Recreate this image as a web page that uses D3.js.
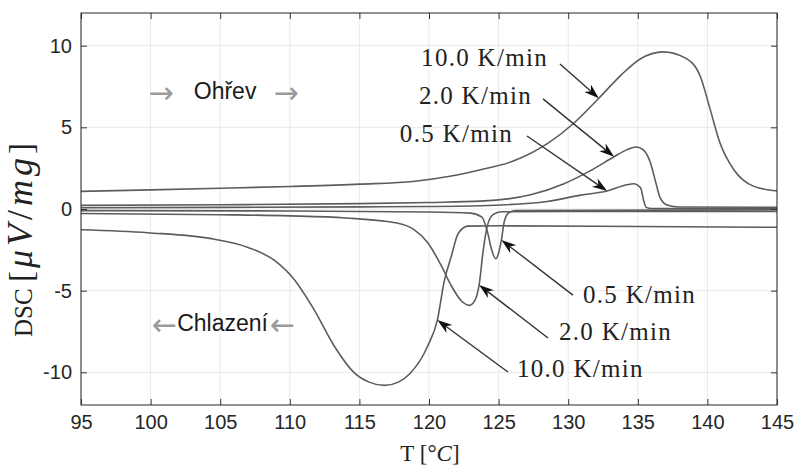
<!DOCTYPE html>
<html>
<head>
<meta charset="utf-8">
<script src="https://cdn.jsdelivr.net/npm/d3@7"></script>
<style>
  body { margin: 0; background: #fff; }
</style>
</head>
<body>
<svg id="chart" width="797" height="465"></svg>
<script>
// Axis ticks
const xTicks = [95, 100, 105, 110, 115, 120, 125, 130, 135, 140, 145];
const yTicks = [-10, -5, 0, 5, 10];

// Heating runs (temperature in °C, DSC signal in µV/mg)
const heat10T = [95, 100, 105, 110, 115, 119, 121.5, 123.7, 126.1, 128.5, 130.4, 132.2, 133.8, 135.2, 136.8, 138.4, 139.5, 140.2, 140.9, 141.9, 143.3, 145];
const heat10V = [1.08, 1.17, 1.27, 1.38, 1.52, 1.7, 2.0, 2.4, 2.95, 4.0, 5.25, 6.78, 8.2, 9.2, 9.62, 9.25, 8.1, 6.1, 4.05, 2.4, 1.4, 1.1];

const heat2T = [95, 105, 115, 120, 123.7, 127.3, 129.7, 131.6, 133.3, 134.2, 134.9, 135.4, 135.9, 136.3, 136.6, 137.1, 138, 145];
const heat2V = [0.22, 0.26, 0.33, 0.4, 0.48, 0.87, 1.55, 2.35, 3.2, 3.62, 3.8, 3.62, 2.85, 1.6, 0.7, 0.25, 0.12, 0.1];

const heat05T = [95, 105, 115, 120, 123.7, 128.5, 130.9, 132.8, 134.2, 134.7, 135.2, 135.4, 135.6, 136, 145];
const heat05V = [0.08, 0.1, 0.13, 0.15, 0.2, 0.46, 0.85, 1.1, 1.48, 1.55, 1.3, 0.6, 0.1, 0.03, 0.02];

// Cooling runs
const cool10T = [95, 99.8, 104.6, 107, 108.9, 110.3, 111.7, 113.2, 114.6, 115.7, 116.8, 117.8, 118.6, 119.9, 120.6, 121.1, 121.6, 122.1, 122.8, 125, 135, 145];
const cool10V = [-1.27, -1.45, -1.85, -2.35, -3.15, -4.3, -6.1, -8.4, -10.0, -10.6, -10.8, -10.6, -10.1, -8.4, -6.8, -4.4, -2.9, -1.5, -1.05, -1.03, -1.07, -1.12];

const cool2T = [95, 105, 110, 114, 117.7, 118.9, 119.9, 120.9, 121.6, 122.3, 122.9, 123.3, 123.6, 123.9, 124.2, 124.6, 125.2, 130, 145];
const cool2V = [-0.28, -0.35, -0.42, -0.55, -0.86, -1.25, -2.05, -3.5, -4.7, -5.6, -5.9, -5.6, -4.65, -2.5, -1.0, -0.35, -0.17, -0.15, -0.15];

const cool05T = [95, 110, 120, 123.0, 123.8, 124.2, 124.5, 124.8, 125.0, 125.2, 125.4, 125.7, 126.2, 145];
const cool05V = [-0.1, -0.12, -0.18, -0.25, -0.5, -1.4, -2.5, -3.05, -2.7, -1.9, -0.8, -0.25, -0.1, -0.05];

// Rate labels: text anchor, arrow start and the curve point the arrow points at
const rateLabels = [
  { text: "10.0 K/min", T: heat10T, V: heat10V, tipIndex: 11, labelT: 128.55, labelV: 8.76, anchor: "end",   fromT: 129.41, fromV: 8.88 },
  { text: "2.0 K/min",  T: heat2T,  V: heat2V,  tipIndex: 8,  labelT: 127.4,  labelV: 6.43, anchor: "end",   fromT: 128.19, fromV: 6.74 },
  { text: "0.5 K/min",  T: heat05T, V: heat05V, tipIndex: 7,  labelT: 126.03, labelV: 4.1,  anchor: "end",   fromT: 127.04, fromV: 4.47 },
  { text: "0.5 K/min",  T: cool05T, V: cool05V, tipIndex: 9,  labelT: 131.06, labelV: -5.76, anchor: "start", fromT: 130.34, fromV: -5.27 },
  { text: "2.0 K/min",  T: cool2T,  V: cool2V,  tipIndex: 12, labelT: 129.34, labelV: -8.02, anchor: "start", fromT: 128.55, fromV: -7.9 },
  { text: "10.0 K/min", T: cool10T, V: cool10V, tipIndex: 14, labelT: 126.32, labelV: -10.29, anchor: "start", fromT: 125.67, fromV: -9.98 }
];

const seriesList = [
  [heat10T, heat10V], [heat2T, heat2V], [heat05T, heat05V],
  [cool10T, cool10V], [cool2T, cool2V], [cool05T, cool05V]
];

const svg = d3.select("#chart");
const x = d3.scaleLinear().domain([95, 145]).range([81, 777]);
const y = d3.scaleLinear().domain([-12, 12]).range([405, 13]);

// grid
const grid = svg.append("g").attr("stroke", "#e9e9e9").attr("stroke-width", 1);
grid.selectAll(".gx").data(xTicks).join("line")
  .attr("x1", d => x(d)).attr("x2", d => x(d)).attr("y1", 13).attr("y2", 405);
grid.selectAll(".gy").data(yTicks).join("line")
  .attr("y1", d => y(d)).attr("y2", d => y(d)).attr("x1", 81).attr("x2", 777);

// curves
const line = d3.line().x(d => x(d[0])).y(d => y(d[1])).curve(d3.curveMonotoneX);
svg.append("g").selectAll("path").data(seriesList).join("path")
  .attr("d", s => line(s[0].map((t, i) => [t, s[1][i]])))
  .attr("fill", "none").attr("stroke", "#5c5c5c").attr("stroke-width", 1.6);

// axes with inward ticks
const tickFont = "'Liberation Sans', Arial, sans-serif";
const plainNum = d => String(d);
function styleAxis(g) {
  g.select(".domain").remove();
  g.selectAll(".tick line").attr("stroke", "#333");
  g.selectAll("text").attr("font-family", tickFont).attr("font-size", 20).attr("fill", "#262626");
}
svg.append("g").attr("transform", "translate(0,405)")
  .call(d3.axisBottom(x).tickValues(xTicks).tickFormat(plainNum).tickSizeInner(-6).tickSizeOuter(0).tickPadding(10))
  .call(styleAxis);
svg.append("g").attr("transform", "translate(81,0)")
  .call(d3.axisLeft(y).tickValues(yTicks).tickFormat(plainNum).tickSizeInner(-6).tickSizeOuter(0).tickPadding(9))
  .call(styleAxis);
svg.append("g").attr("transform", "translate(0,13)")
  .call(d3.axisTop(x).tickValues(xTicks).tickSizeInner(-6).tickSizeOuter(0).tickFormat(""))
  .call(styleAxis);
svg.append("g").attr("transform", "translate(777,0)")
  .call(d3.axisRight(y).tickValues(yTicks).tickSizeInner(-6).tickSizeOuter(0).tickFormat(""))
  .call(styleAxis);

// frame
svg.append("rect").attr("x", 81).attr("y", 13).attr("width", 696).attr("height", 392)
  .attr("fill", "none").attr("stroke", "#262626").attr("stroke-width", 1);

// axis titles
const serif = "'Liberation Serif', 'Times New Roman', serif";
const xt = svg.append("text").attr("x", (x(95) + x(145)) / 2 + 1).attr("y", 461)
  .attr("text-anchor", "middle").attr("font-family", serif).attr("font-size", 23).attr("fill", "#222");
xt.append("tspan").text("T [°");
xt.append("tspan").attr("font-style", "italic").text("C");
xt.append("tspan").text("]");

const yt = svg.append("text").attr("transform", "translate(32,337) rotate(-90)")
  .attr("text-anchor", "start").attr("font-family", serif).attr("font-size", 25).attr("fill", "#222");
yt.append("tspan").text("DSC ");
yt.append("tspan").attr("font-size", 33).attr("letter-spacing", 3).text("[");
yt.append("tspan").attr("font-style", "italic").attr("font-size", 36).attr("letter-spacing", 4).text("μV");
yt.append("tspan").attr("font-size", 36).attr("letter-spacing", 4).text("/");
yt.append("tspan").attr("font-style", "italic").attr("font-size", 36).attr("letter-spacing", 4).text("mg");
yt.append("tspan").attr("font-size", 33).text("]");

// arrows from rate labels to curves
function arrow(g, x0, y0, x1, y1) {
  const a = Math.atan2(y1 - y0, x1 - x0);
  const ux = Math.cos(a), uy = Math.sin(a), px = -uy, py = ux;
  const L = 15, W = 5, N = 10.5;
  g.append("line").attr("x1", x0).attr("y1", y0)
    .attr("x2", x1 - ux * N).attr("y2", y1 - uy * N)
    .attr("stroke", "#333").attr("stroke-width", 1.4);
  const pts = [
    [x1, y1],
    [x1 - ux * L + px * W, y1 - uy * L + py * W],
    [x1 - ux * N, y1 - uy * N],
    [x1 - ux * L - px * W, y1 - uy * L - py * W]
  ];
  g.append("path").attr("d", "M" + pts.map(p => p.join(",")).join("L") + "Z").attr("fill", "#111");
}
const ann = svg.append("g");
rateLabels.forEach(r => {
  ann.append("text").attr("x", x(r.labelT)).attr("y", y(r.labelV))
    .attr("text-anchor", r.anchor).attr("font-family", serif).attr("font-size", 25)
    .attr("letter-spacing", 1.3).attr("fill", "#222").text(r.text);
  arrow(ann, x(r.fromT), y(r.fromV), x(r.T[r.tipIndex]), y(r.V[r.tipIndex]));
});

// direction notes
const sans = "'Liberation Sans', Arial, sans-serif";
function note(centerT, baseV, word, arrowChar, arrowOffsets) {
  const cx = x(centerT), by = y(baseV);
  svg.append("text").attr("x", cx).attr("y", by).attr("text-anchor", "middle")
    .attr("font-family", sans).attr("font-size", 23).attr("fill", "#1a1a1a").text(word);
  arrowOffsets.forEach(o => {
    svg.append("text").attr("x", cx + o).attr("y", by + 4).attr("text-anchor", "middle")
      .attr("font-family", "'DejaVu Sans', sans-serif").attr("font-size", 30).attr("fill", "#9a9a9a").text(arrowChar);
  });
}
note(105.35, 6.74, "Ohřev", "→", [-64, 61]);
note(105.17, -7.44, "Chlazení", "←", [-58, 60]);
</script>
</body>
</html>
